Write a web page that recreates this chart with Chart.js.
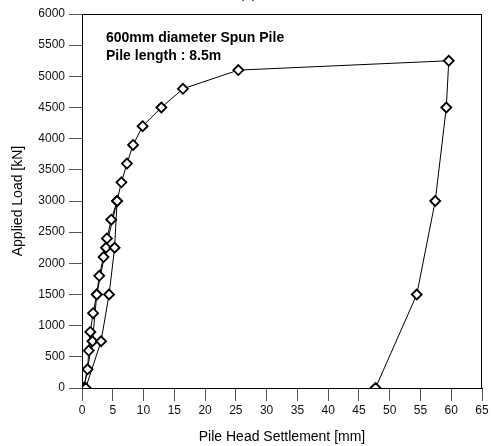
<!DOCTYPE html>
<html>
<head>
<meta charset="utf-8">
<script src="https://cdn.jsdelivr.net/npm/chart.js@4.4.0/dist/chart.umd.min.js"></script>
<style>
  html, body { margin: 0; padding: 0; background: #fff; }
  #wrap { width: 492px; height: 446px; }
</style>
</head>
<body>
<div id="wrap"><canvas id="pile-chart" width="492" height="446"></canvas></div>
<script>
// ─── Load test data ──────────────────────────────
const settlement = [
  0.3, 0.9, 1.1, 1.35, 1.8, 2.4, 2.8, 3.5, 4.05, 4.75, 5.7,
  3.9, 2.4, 1.7, 0.3,
  0.6, 3.1, 4.4, 5.3, 5.7, 6.4, 7.3, 8.3, 9.85, 12.9, 16.4, 25.4, 59.6,
  59.2, 57.4, 54.4, 47.7,
];
const appliedLoad = [
  0, 300, 600, 900, 1200, 1500, 1800, 2100, 2400, 2700, 3000,
  2250, 1500, 750, 0,
  0, 750, 1500, 2250, 3000, 3300, 3600, 3900, 4200, 4500, 4800, 5100, 5250,
  4500, 3000, 1500, 0,
];
const xTicks = [0, 5, 10, 15, 20, 25, 30, 35, 40, 45, 50, 55, 60, 65];
const yTicks = [0, 500, 1000, 1500, 2000, 2500, 3000, 3500, 4000, 4500, 5000, 5500, 6000];
const noteLines = ['600mm diameter Spun Pile', 'Pile length : 8.5m'];

const FONT = "'Liberation Sans', Arial, sans-serif";
const points = settlement.map((x, i) => ({ x, y: appliedLoad[i] }));

// ─── Frame + note + clipped "(a)" ────────────────
const framePlugin = {
  id: 'frame',
  afterDraw(chart) {
    const { ctx, chartArea: a } = chart;
    ctx.save();
    ctx.strokeStyle = '#000';
    ctx.lineWidth = 1;
    ctx.strokeRect(a.left + 0.5, a.top + 0.5, a.right - a.left - 1, a.bottom - a.top);

    ctx.fillStyle = '#000';
    ctx.font = `bold 14px ${FONT}`;
    ctx.textBaseline = 'middle';
    ctx.fillText(noteLines[0], a.left + 24, a.top + 24);
    ctx.fillText(noteLines[1], a.left + 24, a.top + 42);

    // title sits mostly above the page edge
    ctx.font = `14px ${FONT}`;
    ctx.textAlign = 'center';
    ctx.textBaseline = 'alphabetic';
    ctx.fillText('(a)', 248, -2);
    ctx.restore();
  },
};

new Chart(document.getElementById('pile-chart'), {
  type: 'scatter',
  data: {
    datasets: [{
      label: 'Load test',
      data: points,
      showLine: true,
      borderColor: '#000',
      borderWidth: 1,
      pointStyle: 'rectRot',
      pointRadius: 5,
      pointBorderWidth: 1.8,
      pointBackgroundColor: '#fff',
      pointBorderColor: '#000',
    }],
  },
  options: {
    responsive: false,
    animation: false,
    layout: { padding: { left: 0, right: 10, top: 14, bottom: 0 } },
    plugins: { legend: { display: false }, tooltip: { enabled: false } },
    scales: {
      x: {
        type: 'linear',
        min: 0, max: 65,
        afterBuildTicks: (s) => { s.ticks = xTicks.map(v => ({ value: v })); },
        afterFit: (s) => { s.height = 58; },
        grid: { drawOnChartArea: false, drawTicks: true, tickLength: 13, color: '#555' },
        border: { display: true, color: '#000' },
        ticks: { color: '#111', padding: 2, font: { size: 12, family: FONT }, maxRotation: 0, callback: (v) => String(v) },
        title: { display: true, text: 'Pile Head Settlement [mm]', color: '#000', padding: { top: 2, bottom: 0 }, font: { size: 14, family: FONT } },
      },
      y: {
        type: 'linear',
        min: 0, max: 6000,
        afterBuildTicks: (s) => { s.ticks = yTicks.map(v => ({ value: v })); },
        afterFit: (s) => { s.width = 82; },
        grid: { drawOnChartArea: false, drawTicks: true, tickLength: 13, color: '#555' },
        border: { display: true, color: '#000' },
        ticks: { color: '#111', padding: 4, font: { size: 12, family: FONT }, callback: (v) => String(v) },
        title: { display: true, text: 'Applied Load [kN]', color: '#000', padding: { top: 10, bottom: 4 }, font: { size: 14, family: FONT } },
      },
    },
  },
  plugins: [framePlugin],
});
</script>
</body>
</html>
